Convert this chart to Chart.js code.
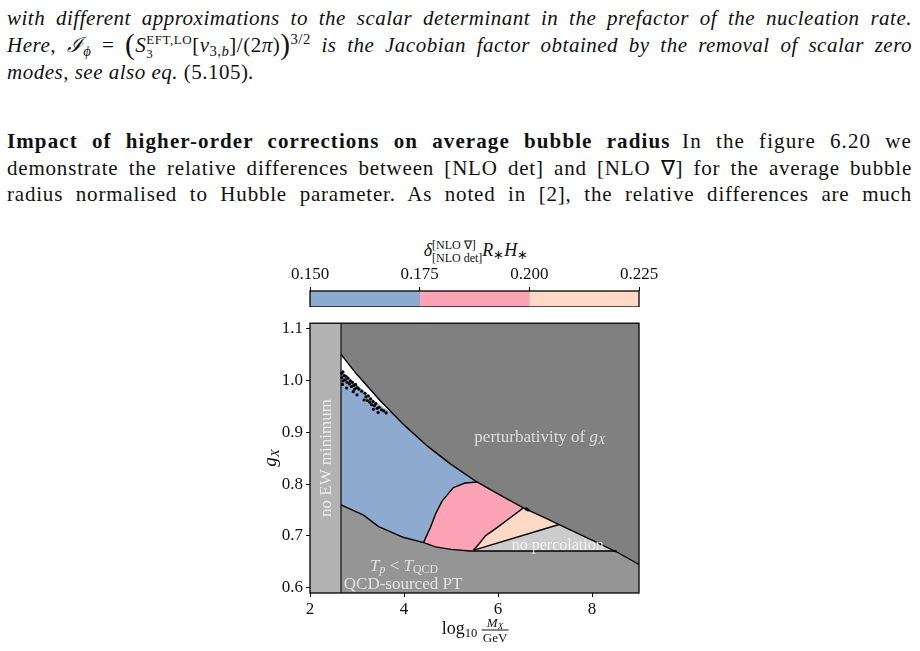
<!DOCTYPE html>
<html>
<head>
<meta charset="utf-8">
<script src="https://cdn.jsdelivr.net/npm/chart.js@4.4.1/dist/chart.umd.min.js"></script>
<style>
  body { margin: 0; width: 920px; height: 651px; position: relative; overflow: hidden; background: #fff;
         font-family: "Liberation Serif", "Times New Roman", serif; color: #111; }
  .ln { position: absolute; left: 7px; width: 905px; font-size: 21px; line-height: 27px; letter-spacing: .5px; }
  .j { text-align: justify; text-align-last: justify; }
  .it { font-style: italic; }
  .n { font-style: normal; }
  sub { font-size: 70%; vertical-align: -0.25em; line-height: 0; }
  sup { font-size: 70%; vertical-align: 0.55em; line-height: 0; }
  .ss { display: inline-block; vertical-align: -0.45em; line-height: 1.05; font-size: 62%; font-style: normal; }
  .ss span { display: block; }
  .bp { font-size: 1.4em; line-height: 0; vertical-align: -0.08em; font-style: normal; }
  canvas { position: absolute; }
  .lab { position: absolute; transform: translate(-50%, -50%); color: rgba(255,255,255,.72);
         font-size: 17px; line-height: 1; white-space: nowrap; }
  .ttl { position: absolute; transform: translate(-50%, -50%); white-space: nowrap; line-height: 1; color: #111; }
  .stk { display: inline-block; vertical-align: middle; font-size: 12px; line-height: 13px; text-align: left; }
  .stk span { display: block; }
  .frac { display: inline-block; vertical-align: middle; text-align: center; font-size: 13px; line-height: 14px; }
  .frac span { display: block; padding: 0 1px; }
  .frac .num { border-bottom: 1.3px solid #111; }
</style>
</head>
<body>

<div class="ln it j" style="top:5px">with different approximations to the scalar determinant in the prefactor of the nucleation rate.</div>
<div class="ln it j" style="top:32px">Here, ℐ<sub>ϕ</sub> <span class="n">=</span> <span class="bp">(</span>S<span class="ss"><span>EFT,LO</span><span>3</span></span><span class="n">[</span>v<sub><span class="n">3,</span>b</sub><span class="n">]/(2</span>π<span class="n">)</span><span class="bp">)</span><sup class="n">3/2</sup> is the Jacobian factor obtained by the removal of scalar zero</div>
<div class="ln it" style="top:59px">modes, see also eq. <span class="n">(5.105)</span>.</div>
<div class="ln j" style="top:128px; letter-spacing:1.1px"><b>Impact of higher-order corrections on average bubble radius</b>&ensp;In the figure 6.20 we</div>
<div class="ln j" style="top:155px; letter-spacing:.8px">demonstrate the relative differences between [NLO det] and [NLO ∇] for the average bubble</div>
<div class="ln j" style="top:181px; letter-spacing:.8px">radius normalised to Hubble parameter. As noted in [2], the relative differences are much</div>

<div class="ttl" style="left:476px; top:252px; font-size:18px"><i>δ</i><span class="stk"><span>[NLO ∇]</span><span>[NLO det]</span></span><i>R</i><sub>∗</sub><i>H</i><sub>∗</sub></div>

<canvas id="cb" width="414" height="45" style="left:250px; top:262px"></canvas>
<canvas id="main" width="400" height="313" style="left:250px; top:310px"></canvas>

<div class="ttl" style="left:269px; top:458px; font-size:19px; transform:translate(-50%,-50%) rotate(-90deg)"><i>g</i><sub><i>X</i></sub></div>
<div class="ttl" style="left:475px; top:630px; font-size:18px">log<sub>10</sub> <span class="frac"><span class="num"><i>M</i><sub><i>X</i></sub></span><span>GeV</span></span></div>

<div class="lab" data-x="6.89" data-y="0.893">perturbativity of <i>g</i><sub><i>X</i></sub></div>
<div class="lab" data-x="2.32" data-y="0.851" style="transform:translate(-50%,-50%) rotate(-90deg)">no EW minimum</div>
<div class="lab" data-x="7.27" data-y="0.682" style="font-size:16px">no percolation</div>
<div class="lab" data-x="4.0" data-y="0.644"><i>T</i><sub><i>p</i></sub> &lt; <i>T</i><sub>QCD</sub></div>
<div class="lab" data-x="3.98" data-y="0.609">QCD-sourced PT</div>

<script>
// boundaries: x = log10(M_X/GeV), y = g_X
const ewEdge = 2.66;

const pertX = [2.66, 3.0, 3.5, 4.0, 4.5, 5.0, 5.55, 6.0, 6.54, 7.0, 7.3, 8.0, 8.53, 9.0];
const pertY = [1.050, 1.011, 0.960, 0.914, 0.873, 0.838, 0.804, 0.781, 0.754, 0.735, 0.722, 0.692, 0.669, 0.645];

const qcdX = [2.66, 3.14, 3.46, 3.96, 4.42, 4.67, 5.0, 5.41, 8.53];
const qcdY = [0.760, 0.740, 0.718, 0.698, 0.687, 0.679, 0.674, 0.671, 0.671];

const bluePinkX = [4.42, 4.56, 4.67, 4.81, 5.05, 5.30, 5.55];
const bluePinkY = [0.688, 0.716, 0.742, 0.767, 0.793, 0.802, 0.804];

const pinkPeachX = [5.47, 5.59, 5.73, 5.98, 6.26, 6.54];
const pinkPeachY = [0.672, 0.684, 0.700, 0.716, 0.735, 0.754];

const percX = [5.47, 7.3];
const percY = [0.672, 0.722];

const blueTopX = [3.75, 3.6, 3.4, 3.2, 3.05, 2.9, 2.75, 2.66];
const blueTopY = [0.937, 0.945, 0.958, 0.975, 0.988, 0.999, 1.010, 1.017];

// scattered black points along the edge of the blue region
const dotX = [2.67, 2.68, 2.70, 2.71, 2.73, 2.75, 2.77, 2.79, 2.81, 2.84, 2.86, 2.88, 2.90, 2.93, 2.95, 2.97,
              3.00, 3.04, 3.10, 3.17, 3.19, 3.22, 3.24, 3.27, 3.29, 3.31, 3.34, 3.37, 3.40, 3.43, 3.47, 3.52,
              3.57, 3.62, 2.92, 2.69, 2.78, 3.00, 3.15, 3.35, 3.45, 6.60, 6.64];
const dotY = [1.013, 1.005, 1.016, 0.999, 1.009, 1.001, 1.007, 0.996, 1.004, 0.993, 0.999, 0.988, 0.996, 0.990, 0.983, 0.992,
              0.986, 0.983, 0.979, 0.975, 0.968, 0.961, 0.970, 0.958, 0.964, 0.953, 0.959, 0.951, 0.955, 0.946, 0.948, 0.943,
              0.941, 0.937, 0.978, 0.992, 0.985, 0.972, 0.962, 0.944, 0.938, 0.752, 0.750];

const xTicks = [2, 4, 6, 8];
const yTicks = [0.6, 0.7, 0.8, 0.9, 1.0, 1.1];
const cbEdges = [0.150, 0.175, 0.200, 0.225];

const cbColors = ['#8eaacf', '#fca3b6', '#fed9c6'];
const C = { dark: '#808080', ew: '#b3b3b3', qcd: '#959595', perc: '#cccccc', white: '#ffffff' };

const xMin = 2, xMax = 9, yMin = 0.59, yMax = 1.11;
const lo = 0.55, hi = 1.15;

const zip = (xs, ys) => xs.map((x, i) => ({x, y: ys[i]}));
const pert = zip(pertX, pertY);
const pertAfter = x0 => pert.filter(p => p.x > x0);

const tickFont = { family: '"Liberation Serif", serif', size: 17 };

const frame = {
  id: 'frame',
  afterDatasetsDraw(chart) {
    const a = chart.chartArea, ctx = chart.ctx;
    ctx.save();
    ctx.strokeStyle = '#000';
    ctx.lineWidth = 1.3;
    ctx.strokeRect(a.left, a.top, a.right - a.left, a.bottom - a.top);
    ctx.restore();
  }
};

function area(points, color) {
  return { data: points, showLine: true, fill: 'shape', backgroundColor: color,
           borderColor: 'rgba(0,0,0,0)', borderWidth: 0, pointRadius: 0, tension: 0 };
}
function edge(points, color) {
  return { data: points, showLine: true, fill: false, borderColor: color || '#000',
           borderWidth: 1.4, borderJoinStyle: 'round', pointRadius: 0, tension: 0 };
}

const layers = [
  area([{x: xMin, y: lo}, {x: xMin, y: hi}, {x: xMax, y: hi}, {x: xMax, y: lo}], C.dark),
  area([{x: xMin, y: lo}, {x: xMin, y: hi}, {x: ewEdge, y: hi}, {x: ewEdge, y: lo}], C.ew),
  area([{x: ewEdge, y: lo}, ...pert, {x: xMax, y: lo}], cbColors[0]),
  area([...pert.filter(p => p.x < blueTopX[0]), ...zip(blueTopX, blueTopY)], C.white),
  area([{x: bluePinkX[0], y: lo}, ...zip(bluePinkX, bluePinkY), ...pertAfter(5.55), {x: xMax, y: lo}], cbColors[1]),
  area([{x: pinkPeachX[0], y: lo}, ...zip(pinkPeachX, pinkPeachY), ...pertAfter(6.54), {x: xMax, y: lo}], cbColors[2]),
  area([{x: percX[0], y: lo}, ...zip(percX, percY), ...pertAfter(7.3), {x: xMax, y: lo}], C.perc),
  area([{x: ewEdge, y: lo}, ...zip(qcdX, qcdY), ...pertAfter(8.53), {x: xMax, y: lo}], C.qcd),
  edge([{x: ewEdge, y: lo}, {x: ewEdge, y: hi}], '#222'),
  edge(pert),
  edge(zip(qcdX, qcdY)),
  edge(zip(bluePinkX, bluePinkY)),
  edge(zip(pinkPeachX, pinkPeachY)),
  edge(zip(percX, percY)),
  { data: zip(dotX, dotY), showLine: false, pointRadius: 1.6, pointBackgroundColor: '#000',
    pointBorderWidth: 0, borderColor: '#000' }
];
layers.forEach((d, i) => { d.order = layers.length - i; });

const main = new Chart(document.getElementById('main'), {
  type: 'scatter',
  data: { datasets: layers },
  options: {
    responsive: false, animation: false, devicePixelRatio: 1, events: [],
    layout: { padding: { top: 12, right: 11, left: 0, bottom: 0 } },
    plugins: { legend: { display: false }, tooltip: { enabled: false } },
    scales: {
      x: {
        type: 'linear', min: xMin, max: xMax,
        afterBuildTicks: s => { s.ticks = xTicks.map(v => ({value: v})); },
        afterFit: s => { s.height = 30; },
        ticks: { font: tickFont, color: '#111', padding: 2, maxRotation: 0, autoSkip: false,
                 callback: v => String(v) },
        grid: { drawOnChartArea: false, tickLength: 4, color: '#000' },
        border: { display: false }
      },
      y: {
        type: 'linear', min: yMin, max: yMax,
        afterBuildTicks: s => { s.ticks = yTicks.map(v => ({value: v})); },
        afterFit: s => { s.width = 60; },
        ticks: { font: tickFont, color: '#111', padding: 3, autoSkip: false,
                 callback: v => v.toFixed(1) },
        grid: { drawOnChartArea: false, tickLength: 4, color: '#000' },
        border: { display: false }
      }
    }
  },
  plugins: [frame]
});

new Chart(document.getElementById('cb'), {
  type: 'bar',
  data: {
    labels: [''],
    datasets: cbColors.map((c, i) => ({
      data: [[cbEdges[i], cbEdges[i + 1]]], backgroundColor: c, borderWidth: 0,
      grouped: false, barPercentage: 1, categoryPercentage: 1
    }))
  },
  options: {
    indexAxis: 'y', responsive: false, animation: false, devicePixelRatio: 1, events: [],
    layout: { padding: { left: 60, right: 25, top: 0, bottom: 0 } },
    plugins: { legend: { display: false }, tooltip: { enabled: false } },
    scales: {
      x: {
        type: 'linear', position: 'top', min: cbEdges[0], max: cbEdges[cbEdges.length - 1],
        afterBuildTicks: s => { s.ticks = cbEdges.map(v => ({value: v})); },
        afterFit: s => { s.height = 29; },
        ticks: { font: tickFont, color: '#111', padding: 2, maxRotation: 0, autoSkip: false,
                 callback: v => v.toFixed(3) },
        grid: { drawOnChartArea: false, tickLength: 4, color: '#000' },
        border: { display: false }
      },
      y: { display: false }
    }
  },
  plugins: [frame]
});

// place the region names through the main chart's scales
const cv = document.getElementById('main');
document.querySelectorAll('.lab').forEach(el => {
  el.style.left = (cv.offsetLeft + main.scales.x.getPixelForValue(+el.dataset.x)) + 'px';
  el.style.top = (cv.offsetTop + main.scales.y.getPixelForValue(+el.dataset.y)) + 'px';
});
</script>
</body>
</html>
